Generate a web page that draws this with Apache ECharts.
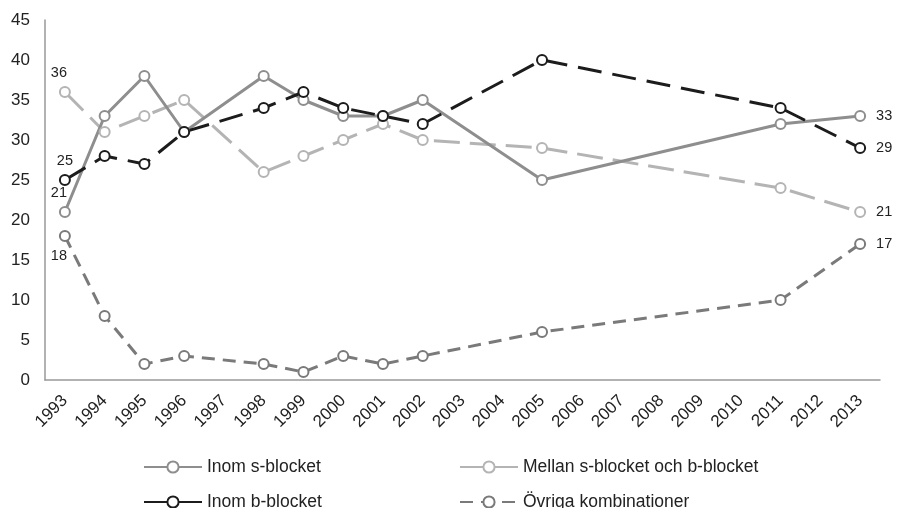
<!DOCTYPE html>
<html><head><meta charset="utf-8">
<script src="https://cdn.jsdelivr.net/npm/echarts@6/dist/echarts.min.js"></script>
<style>html,body{margin:0;padding:0;background:#fff}#c{width:899px;height:508px}</style>
</head><body><div id="c"></div>
<script>
var years = ['1993','1994','1995','1996','1997','1998','1999','2000','2001','2002','2003','2004','2005','2006','2007','2008','2009','2010','2011','2012','2013'];
var inomS   = [21,33,38,31,null,38,35,33,33,35,null,null,25,null,null,null,null,null,32,null,33];
var mellan  = [36,31,33,35,null,26,28,30,32,30,null,null,29,null,null,null,null,null,24,null,21];
var inomB   = [25,28,27,31,null,34,36,34,33,32,null,null,40,null,null,null,null,null,34,null,29];
var ovriga  = [18,8,2,3,null,2,1,3,2,3,null,null,6,null,null,null,null,null,10,null,17];
var yTicks = [0,5,10,15,20,25,30,35,40,45];

var FONT = 'Liberation Sans, Arial, sans-serif';
function withLabels(arr, firstPos, firstOffset){
  var last = arr.length - 1;
  return arr.map(function(v,i){
    if (v === null) return null;
    if (i === 0) return {value:v, label:{show:true, position:firstPos, offset:firstOffset, distance:6}};
    if (i === last) return {value:v, label:{show:true, position:'right', distance:10}};
    return v;
  });
}
function mk(name, data, color, type, width, fp, fo){
  return {
    name:name, type:'line', data:withLabels(data, fp, fo), connectNulls:true,
    symbol:'emptyCircle', symbolSize:10, showAllSymbol:true,
    lineStyle:{color:color, type:type, width:width},
    itemStyle:{color:color, borderColor:color, borderWidth:3},
    label:{show:false, color:'#222', fontSize:14.5, fontFamily:FONT},
    emphasis:{disabled:true}, animation:false
  };
}
function lg(name, left, top, lineType){
  var d = {name:name};
  if (lineType) d.lineStyle = {type:lineType};
  return {left:left, top:top, orient:'horizontal', itemWidth:58, itemHeight:14, itemGap:10,
    selectedMode:false, padding:0,
    textStyle:{color:'#222', fontSize:17.5, fontFamily:FONT, padding:[0,0,0,0]},
    data:[d]};
}
var chart = echarts.init(document.getElementById('c'));
chart.setOption({
  backgroundColor:'#fff',
  textStyle:{fontFamily:FONT},
  grid:{left:45, right:19, top:20, bottom:128, containLabel:false},
  xAxis:{type:'category', data:years, boundaryGap:true,
    axisLine:{lineStyle:{color:'#999', width:1.5}}, axisTick:{show:false},
    axisLabel:{rotate:45, color:'#222', fontSize:17, interval:0, margin:18}},
  yAxis:{type:'value', min:0, max:45, interval:5,
    axisLine:{show:true, lineStyle:{color:'#999', width:1.5}}, axisTick:{show:false},
    splitLine:{show:false},
    axisLabel:{color:'#222', fontSize:17, margin:15,
      formatter:function(v){ return yTicks.indexOf(v) >= 0 ? String(v) : ''; }}},
  legend:[
    lg('Inom s-blocket', 143, 458),
    lg('Inom b-blocket', 143, 493, 'solid'),
    lg('Mellan s-blocket och b-blocket', 459, 458, 'solid'),
    lg('Övriga kombinationer', 459, 493)
  ],
  series:[
    mk('Mellan s-blocket och b-blocket', mellan, '#b4b4b4', [26,10], 3, 'top', [-6,0]),
    mk('Övriga kombinationer', ovriga, '#7a7a7a', [13,8], 3, 'bottom', [-6,0]),
    mk('Inom s-blocket', inomS, '#8e8e8e', 'solid', 3, 'top', [-6,0]),
    mk('Inom b-blocket', inomB, '#1c1c1c', [24,11], 3, 'top', [0,0])
  ]
});
</script></body></html>
